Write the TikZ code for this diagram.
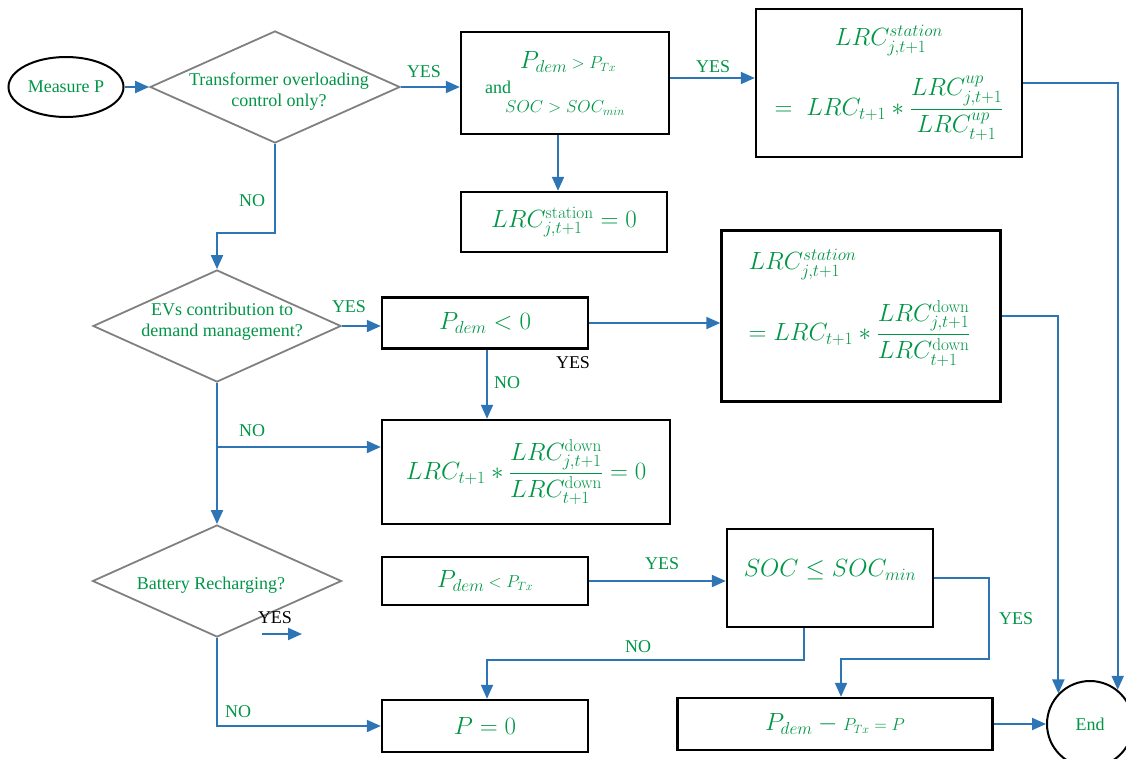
\documentclass[tikz,border=0pt]{standalone}
\usepackage{amsmath}
\usepackage[no-math]{fontspec}
\setmainfont{Liberation Serif}
\usetikzlibrary{shapes.geometric,arrows.meta}
\definecolor{txtgreen}{RGB}{0,150,70}
\definecolor{flowblue}{RGB}{46,117,182}
\definecolor{diagray}{RGB}{128,128,128}
\newcommand{\lblsize}{\fontsize{18}{21}\selectfont}
\newcommand{\eqsize}{\fontsize{24}{28}\selectfont}
\begin{document}
\begin{tikzpicture}[x=1pt,y=-1pt,
	every node/.style={text=txtgreen,inner sep=0pt},
	lbl/.style={font=\lblsize},
	eq/.style={font=\eqsize},
	decision/.style={diamond,draw=diagray,line width=1.8pt,minimum width=250pt,minimum height=112pt},
	box/.style={rectangle,draw=black,line width=2.4pt,minimum width=206pt},
	flow/.style={draw=flowblue,line width=2pt,-{Triangle[length=14pt,width=12pt]}}]
\useasboundingbox (0,0) rectangle (1126,758);
\node[ellipse,draw=black,line width=2pt,minimum width=115pt,minimum height=60pt,lbl] (measure) at (66,87) {Measure P};
\node[decision] (dec1) at (275,87) {};
\node[lbl,align=center] (dec1txt) at (279,92) {Transformer overloading\\control only?};
\node[box,minimum width=208pt,minimum height=102pt] (cond1) at (565,83) {};
\node[eq] (cond1a) at (568,62) {$P_{dem}$\,{\lblsize$>P_{Tx}$}};
\node[lbl] (cond1b) at (498,87) {and};
\node[lbl] (cond1c) at (565,108) {$SOC>SOC_{min}$};
\node[box,minimum width=266pt,minimum height=148pt,eq,align=center] (upd1) at (889,83)
	{$LRC^{station}_{j,t+1}$\\[20pt]$=\;LRC_{t+1}*\dfrac{LRC^{up}_{j,t+1}}{LRC^{up}_{t+1}}$};
\node[box,minimum height=60pt,eq] (zero1) at (564,222) {$LRC^{\mathrm{station}}_{j,t+1}=0$};
\node[decision,minimum width=248pt] (dec2) at (217,326) {};
\node[lbl,align=center] (dec2txt) at (222,322) {EVs contribution to\\demand management?};
\node[box,minimum height=51pt,eq] (neg) at (485,323) {$P_{dem}<0$};
\node[box,minimum width=279pt,minimum height=171pt] (upd2) at (861,316) {};
\node[eq,align=left,anchor=west] (upd2txt) at ([shift={(28,-8)}]upd2.west)
	{$LRC^{station}_{j,t+1}$\\[20pt]$=LRC_{t+1}*\dfrac{LRC^{\mathrm{down}}_{j,t+1}}{LRC^{\mathrm{down}}_{t+1}}$};
\node[box,minimum width=288pt,minimum height=104pt,eq] (zero2) at (526,472)
	{$LRC_{t+1}*\dfrac{LRC^{\mathrm{down}}_{j,t+1}}{LRC^{\mathrm{down}}_{t+1}}=0$};
\node[decision,minimum width=249pt] (dec3) at (217,581) {};
\node[lbl] (dec3txt) at (211,585) {Battery Recharging?};
\node[box,minimum height=48pt,eq] (lt) at (485,581) {$P_{dem}$\,{\lblsize$<P_{Tx}$}};
\node[box,minimum height=98pt] (soc) at (830,578) {};
\node[eq] (soctxt) at (830,570) {$SOC\le SOC_{min}$};
\node[box,minimum height=52pt,eq] (pzero) at (485,726) {$P=0$};
\node[box,minimum width=315pt,minimum height=52pt,eq] (res) at (835,724) {$P_{dem}-{}${\lblsize$P_{Tx}=P$}};
\node[circle,draw=black,line width=2pt,minimum size=86pt,lbl] (endc) at (1090,724) {End};
\node[lbl] (yes1) at (424,72) {YES};
\node[lbl] (no1) at (252,201) {NO};
\node[lbl] (yes2) at (713,67) {YES};
\node[lbl] (yes3) at (349,307) {YES};
\node[lbl,text=black] (yes4) at (573,363) {YES};
\node[lbl] (no2) at (507,383) {NO};
\node[lbl] (no3) at (252,431) {NO};
\node[lbl,text=black] (yes5) at (275,618) {YES};
\node[lbl] (yes6) at (662,564) {YES};
\node[lbl] (no4) at (638,647) {NO};
\node[lbl] (yes7) at (1016,619) {YES};
\node[lbl] (no5) at (238,712) {NO};
\coordinate (split) at (217,447);
\coordinate (stubA) at (262,634);
\coordinate (stubB) at (302,634);
\coordinate (bend) at (989,659);
\draw[flow] (measure) -- (dec1);
\draw[flow] (dec1.east) -- (dec1.east -| cond1.west);
\draw[flow] ([yshift=5pt]cond1.east) -- ([yshift=5pt]cond1.east -| upd1.west);
\draw[flow] ([xshift=-7pt]cond1.south) -- ([xshift=-7pt]cond1.south |- zero1.north);
\draw[flow] (upd1.east) -| (endc.51);
\draw[flow] (dec1.south) -- ++(0,89) -| (dec2.north);
\draw[flow] (dec2.east) -- (dec2.east -| neg.west);
\draw[flow] (neg.east) -- (neg.east -| upd2.west);
\draw[flow] (upd2.east) -| (endc.136);
\draw[flow] ([xshift=2pt]neg.south) -- ([xshift=2pt]neg.south |- zero2.north);
\draw[flow] (dec2.south) -- (dec3.north);
\draw[flow] (split) -- (split -| zero2.west);
\draw[flow] (dec3.south) |- (pzero.west);
\draw[flow] (stubA) -- (stubB);
\draw[flow] (lt.east) -- (lt.east -| soc.west);
\draw[flow] ([xshift=-26pt]soc.south) -- ++(0,32) -| ([xshift=2pt]pzero.north);
\draw[flow] (soc.east) -| (bend) -| ([xshift=6pt]res.north);
\draw[flow] (res.east) -- (endc.west);
\end{tikzpicture}
\end{document}
